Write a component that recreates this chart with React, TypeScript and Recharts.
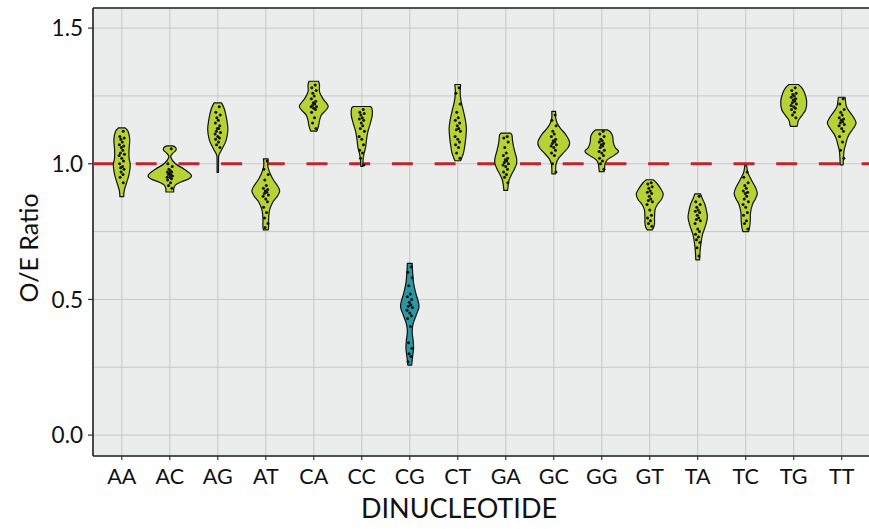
import React from 'react';
import { ScatterChart, Scatter, XAxis, YAxis, CartesianGrid, ReferenceLine, Label } from 'recharts';

const categories = ['AA', 'AC', 'AG', 'AT', 'CA', 'CC', 'CG', 'CT', 'GA', 'GC', 'GG', 'GT', 'TA', 'TC', 'TG', 'TT'];
const yTicks = [0, 0.25, 0.5, 0.75, 1.0, 1.25, 1.5];
const yMajor = [0, 0.5, 1.0, 1.5];
const yDomain: [number, number] = [-0.077, 1.574];
const xDomain: [number, number] = [0.4, 16.6];
const referenceValue = 1.0;

// violin profiles: [value, half-width in category units], top to bottom
const aaProfile: [number, number][] = [[1.132, 0.07], [1.12, 0.13], [1.09, 0.165], [1.05, 0.15], [1.02, 0.152], [0.995, 0.177], [0.96, 0.15], [0.93, 0.1], [0.9, 0.05], [0.879, 0.04]];
const acProfile: [number, number][] = [[1.066, 0.06], [1.06, 0.12], [1.05, 0.13], [1.038, 0.06], [1.024, 0.02], [1.0, 0.12], [0.98, 0.3], [0.958, 0.45], [0.945, 0.4], [0.932, 0.22], [0.922, 0.12], [0.91, 0.085], [0.896, 0.08]];
const agProfile: [number, number][] = [[1.224, 0.08], [1.2, 0.14], [1.16, 0.19], [1.125, 0.21], [1.09, 0.18], [1.065, 0.12], [1.045, 0.06], [1.03, 0.02], [1.0, 0.015], [0.968, 0.015]];
const atProfile: [number, number][] = [[1.018, 0.05], [1.0, 0.04], [0.985, 0.05], [0.96, 0.1], [0.94, 0.16], [0.92, 0.24], [0.9, 0.29], [0.88, 0.24], [0.86, 0.15], [0.83, 0.08], [0.8, 0.06], [0.77, 0.06], [0.756, 0.05]];
const caProfile: [number, number][] = [[1.304, 0.1], [1.29, 0.12], [1.265, 0.12], [1.24, 0.19], [1.213, 0.3], [1.197, 0.25], [1.18, 0.16], [1.16, 0.12], [1.14, 0.1], [1.12, 0.065]];
const ccProfile: [number, number][] = [[1.211, 0.17], [1.205, 0.21], [1.18, 0.22], [1.15, 0.18], [1.12, 0.13], [1.09, 0.1], [1.06, 0.08], [1.04, 0.05], [1.02, 0.03], [0.99, 0.02]];
const cgProfile: [number, number][] = [[0.633, 0.05], [0.6, 0.06], [0.56, 0.08], [0.52, 0.13], [0.49, 0.18], [0.47, 0.19], [0.44, 0.13], [0.41, 0.07], [0.38, 0.05], [0.35, 0.07], [0.32, 0.08], [0.29, 0.06], [0.258, 0.04]];
const ctProfile: [number, number][] = [[1.292, 0.06], [1.26, 0.05], [1.23, 0.07], [1.2, 0.11], [1.16, 0.16], [1.13, 0.18], [1.1, 0.17], [1.07, 0.15], [1.04, 0.12], [1.02, 0.08], [1.011, 0.06]];
const gaProfile: [number, number][] = [[1.113, 0.1], [1.105, 0.13], [1.08, 0.145], [1.05, 0.18], [1.02, 0.225], [1.0, 0.225], [0.98, 0.18], [0.96, 0.12], [0.94, 0.07], [0.92, 0.05], [0.902, 0.04]];
const gcProfile: [number, number][] = [[1.193, 0.04], [1.17, 0.04], [1.15, 0.07], [1.13, 0.14], [1.11, 0.24], [1.08, 0.33], [1.06, 0.3], [1.04, 0.2], [1.02, 0.1], [1.0, 0.05], [0.98, 0.04], [0.963, 0.04]];
const ggProfile: [number, number][] = [[1.125, 0.12], [1.115, 0.19], [1.1, 0.23], [1.08, 0.24], [1.06, 0.28], [1.045, 0.35], [1.03, 0.25], [1.015, 0.12], [1.0, 0.07], [0.985, 0.06], [0.971, 0.05]];
const gtProfile: [number, number][] = [[0.941, 0.07], [0.93, 0.14], [0.91, 0.22], [0.89, 0.28], [0.87, 0.25], [0.85, 0.16], [0.83, 0.11], [0.8, 0.1], [0.78, 0.1], [0.765, 0.08], [0.756, 0.05]];
const taProfile: [number, number][] = [[0.889, 0.06], [0.87, 0.1], [0.85, 0.15], [0.82, 0.19], [0.8, 0.2], [0.77, 0.16], [0.74, 0.1], [0.71, 0.07], [0.68, 0.05], [0.646, 0.04]];
const tcProfile: [number, number][] = [[0.993, 0.02], [0.97, 0.04], [0.95, 0.09], [0.93, 0.15], [0.91, 0.21], [0.89, 0.24], [0.87, 0.2], [0.85, 0.14], [0.82, 0.1], [0.79, 0.095], [0.765, 0.08], [0.75, 0.06]];
const tgProfile: [number, number][] = [[1.292, 0.1], [1.28, 0.17], [1.26, 0.23], [1.23, 0.27], [1.2, 0.25], [1.18, 0.18], [1.16, 0.1], [1.145, 0.08], [1.138, 0.07]];
const ttProfile: [number, number][] = [[1.245, 0.07], [1.23, 0.08], [1.21, 0.1], [1.19, 0.17], [1.17, 0.25], [1.15, 0.3], [1.13, 0.24], [1.11, 0.16], [1.09, 0.11], [1.07, 0.08], [1.05, 0.05], [1.03, 0.04], [0.996, 0.03]];

const profiles = [aaProfile, acProfile, agProfile, atProfile, caProfile, ccProfile, cgProfile, ctProfile, gaProfile, gcProfile, ggProfile, gtProfile, taProfile, tcProfile, tgProfile, ttProfile];

// observed O/E ratios (jittered points)
const aaPoints = [1.12, 1.1, 1.095, 1.09, 1.08, 1.07, 1.065, 1.06, 1.05, 1.04, 1.035, 1.03, 1.02, 1.01, 1.0, 0.99, 0.985, 0.98, 0.97, 0.96, 0.95, 0.93];
const acPoints = [1.055, 1.0, 0.99, 0.98, 0.975, 0.97, 0.97, 0.965, 0.96, 0.96, 0.955, 0.95, 0.95, 0.945, 0.94, 0.93, 0.92, 0.91];
const agPoints = [1.21, 1.19, 1.18, 1.17, 1.16, 1.15, 1.14, 1.13, 1.13, 1.12, 1.115, 1.11, 1.1, 1.095, 1.09, 1.08, 1.07, 1.06];
const atPoints = [1.01, 0.98, 0.96, 0.94, 0.92, 0.91, 0.905, 0.9, 0.895, 0.89, 0.885, 0.88, 0.87, 0.86, 0.84, 0.82, 0.8, 0.78, 0.765];
const caPoints = [1.29, 1.28, 1.27, 1.26, 1.25, 1.24, 1.23, 1.225, 1.22, 1.215, 1.21, 1.21, 1.205, 1.2, 1.19, 1.17, 1.15, 1.13];
const ccPoints = [1.2, 1.19, 1.185, 1.18, 1.17, 1.165, 1.16, 1.15, 1.14, 1.13, 1.12, 1.1, 1.09, 1.07, 1.05, 1.04, 1.02, 0.995];
const cgPoints = [0.62, 0.6, 0.58, 0.55, 0.52, 0.51, 0.5, 0.49, 0.48, 0.475, 0.47, 0.46, 0.45, 0.44, 0.43, 0.4, 0.34, 0.32, 0.3, 0.29, 0.27];
const ctPoints = [1.28, 1.26, 1.22, 1.19, 1.17, 1.16, 1.15, 1.14, 1.13, 1.125, 1.12, 1.1, 1.09, 1.08, 1.07, 1.06, 1.04, 1.02];
const gaPoints = [1.1, 1.095, 1.08, 1.06, 1.04, 1.03, 1.02, 1.015, 1.01, 1.005, 1.0, 0.995, 0.99, 0.98, 0.97, 0.96, 0.95, 0.93];
const gcPoints = [1.18, 1.16, 1.14, 1.12, 1.11, 1.1, 1.09, 1.085, 1.08, 1.075, 1.07, 1.065, 1.06, 1.05, 1.04, 1.03, 1.0, 0.97];
const ggPoints = [1.12, 1.11, 1.1, 1.09, 1.085, 1.08, 1.075, 1.07, 1.065, 1.06, 1.05, 1.045, 1.04, 1.03, 1.02, 1.01, 1.0, 0.98];
const gtPoints = [0.93, 0.925, 0.915, 0.91, 0.9, 0.895, 0.89, 0.88, 0.87, 0.865, 0.86, 0.85, 0.83, 0.81, 0.8, 0.79, 0.78, 0.77];
const taPoints = [0.88, 0.86, 0.85, 0.84, 0.83, 0.825, 0.82, 0.81, 0.8, 0.795, 0.79, 0.78, 0.76, 0.75, 0.74, 0.73, 0.72, 0.71, 0.69, 0.66];
const tcPoints = [0.97, 0.95, 0.93, 0.92, 0.91, 0.9, 0.895, 0.89, 0.88, 0.87, 0.86, 0.85, 0.84, 0.82, 0.81, 0.79, 0.78, 0.76];
const tgPoints = [1.28, 1.27, 1.26, 1.255, 1.25, 1.245, 1.24, 1.235, 1.23, 1.225, 1.22, 1.215, 1.21, 1.205, 1.2, 1.19, 1.18, 1.17];
const ttPoints = [1.24, 1.22, 1.2, 1.19, 1.18, 1.17, 1.165, 1.16, 1.155, 1.15, 1.145, 1.14, 1.13, 1.12, 1.1, 1.08, 1.05, 1.02];

const pointSets = [aaPoints, acPoints, agPoints, atPoints, caPoints, ccPoints, cgPoints, ctPoints, gaPoints, gcPoints, ggPoints, gtPoints, taPoints, tcPoints, tgPoints, ttPoints];

// horizontal jitter offsets in category units
const jitterOffsets = [0.03, -0.04, 0.05, -0.02, 0.01, -0.05, 0.04, -0.01, 0.02, -0.03, 0.055, -0.055, 0.0, 0.035, -0.045, 0.015, -0.025, 0.045, -0.015, 0.025, -0.035];

const GREEN = '#b5d334';
const TEAL = '#2a98a2';
const violinColors = categories.map((c) => (c === 'CG' ? TEAL : GREEN));

const FONT = 'Lato, "Open Sans", sans-serif';

type P = { x: number; y: number };

function smoothSeg(p: P[]): string {
  let d = '';
  for (let i = 0; i < p.length - 1; i++) {
    const p0 = p[i - 1] || p[i];
    const p1 = p[i];
    const p2 = p[i + 1];
    const p3 = p[i + 2] || p[i + 1];
    const c1x = p1.x + (p2.x - p0.x) / 6;
    const c1y = p1.y + (p2.y - p0.y) / 6;
    const c2x = p2.x - (p3.x - p1.x) / 6;
    const c2y = p2.y - (p3.y - p1.y) / 6;
    d += ` C${c1x},${c1y} ${c2x},${c2y} ${p2.x},${p2.y}`;
  }
  return d;
}

function makeViolinLine(fill: string) {
  return (props: any) => {
    const pts: P[] = props.points || [];
    const n = pts.length / 2;
    const right = pts.slice(0, n);
    const left = pts.slice(n);
    if (!n) return <g />;
    const d = `M${right[0].x},${right[0].y}` + smoothSeg(right) + ` L${left[0].x},${left[0].y}` + smoothSeg(left) + ' Z';
    return <path d={d} fill={fill} stroke="#111" strokeWidth={1.2} strokeLinejoin="round" />;
  };
}

const DashedRefLine = (props: any) => {
  const pts: P[] = props.points || [];
  if (pts.length < 2) return <g />;
  return <line x1={pts[0].x} y1={pts[0].y} x2={pts[1].x} y2={pts[1].y} stroke="#bb272d" strokeWidth={3} strokeDasharray="21 21.7" />;
};

const refLineData = [
  { x: xDomain[0], y: referenceValue },
  { x: xDomain[1], y: referenceValue },
];

const violinData = profiles.map((prof, i) => [
  ...prof.map(([v, w]) => ({ x: i + 1 + w, y: v })),
  ...prof.slice().reverse().map(([v, w]) => ({ x: i + 1 - w, y: v })),
]);

const jitterData = pointSets.flatMap((vals, i) =>
  vals.map((v, k) => ({ x: i + 1 + jitterOffsets[k % jitterOffsets.length], y: v }))
);

const EmptyShape = () => <g />;
const Dot = (props: any) => <circle cx={props.cx} cy={props.cy} r={1.5} fill="#111" />;

const YTick = (props: any) => {
  const { y, payload } = props;
  const v = payload.value;
  if (!yMajor.includes(v)) return <g />;
  return (
    <g>
      <line x1={88} x2={93} y1={y} y2={y} stroke="#333" strokeWidth={1.2} />
      <text x={83} y={y} dy="0.36em" textAnchor="end" fontSize={22.5} fontFamily={FONT} fill="#111">
        {v.toFixed(1)}
      </text>
    </g>
  );
};

const XTick = (props: any) => {
  const { x, y, payload } = props;
  return (
    <text x={x} y={y + 22} textAnchor="middle" fontSize={21.5} fontFamily={FONT} fill="#111">
      {categories[payload.value - 1]}
    </text>
  );
};

export default function App() {
  return (
    <div style={{ position: 'absolute', left: 0, top: 0, width: 869, height: 529, overflow: 'hidden', background: '#fff' }}>
      <ScatterChart width={880} height={529} margin={{ top: 8, right: 9.5, bottom: 0, left: 0 }}>
        <CartesianGrid fill="#ebeded" stroke="#c6c8c8" strokeWidth={1} />
        <XAxis
          type="number"
          dataKey="x"
          domain={xDomain}
          allowDataOverflow
          ticks={categories.map((_, i) => i + 1)}
          interval={0}
          height={73}
          tick={<XTick />}
          tickLine={{ stroke: '#333', strokeWidth: 1.2 }}
          tickSize={4}
          axisLine={{ stroke: '#222', strokeWidth: 1.6 }}
        >
          <Label
            content={() => (
              <text x={459} y={518} textAnchor="middle" fontSize={27} fontFamily={FONT} fill="#111">
                DINUCLEOTIDE
              </text>
            )}
          />
        </XAxis>
        <YAxis
          type="number"
          dataKey="y"
          domain={yDomain}
          allowDataOverflow
          ticks={yTicks}
          interval={0}
          width={93}
          tick={<YTick />}
          tickLine={false}
          axisLine={{ stroke: '#222', strokeWidth: 1.6 }}
        >
          <Label
            content={() => (
              <text x={38} y={248} transform="rotate(-90, 38, 248)" textAnchor="middle" fontSize={25} fontFamily={FONT} fill="#111">
                O/E Ratio
              </text>
            )}
          />
        </YAxis>
        <ReferenceLine y={yDomain[1]} stroke="#222" strokeWidth={1.6} />
        <Scatter data={refLineData} shape={EmptyShape} line={DashedRefLine} lineType="joint" isAnimationActive={false} />
        {violinData.map((d, i) => (
          <Scatter
            key={categories[i]}
            data={d}
            shape={EmptyShape}
            line={makeViolinLine(violinColors[i])}
            lineType="joint"
            isAnimationActive={false}
          />
        ))}
        <Scatter data={jitterData} shape={Dot} isAnimationActive={false} />
      </ScatterChart>
    </div>
  );
}
